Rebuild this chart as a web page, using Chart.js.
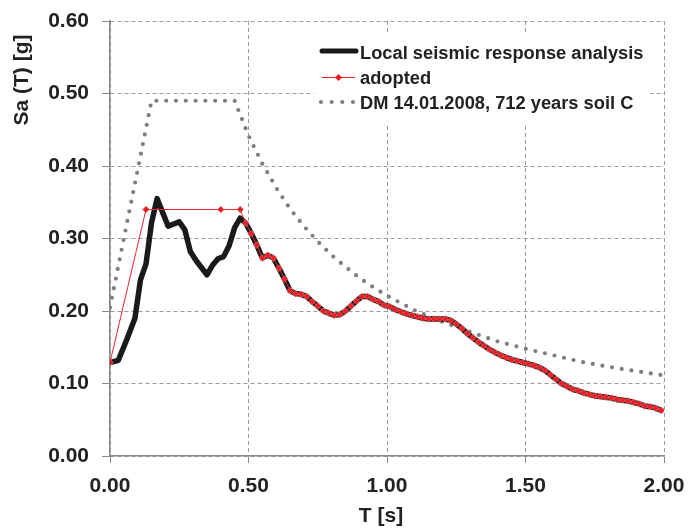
<!DOCTYPE html>
<html>
<head>
<meta charset="utf-8">
<script src="https://cdn.jsdelivr.net/npm/chart.js@4.4.1/dist/chart.umd.min.js"></script>
<style>
  html, body { margin: 0; padding: 0; background: #fff; }
  #wrap { width: 688px; height: 529px; }
</style>
</head>
<body>
<div id="wrap"><canvas id="myChart" width="688" height="529"></canvas></div>
<script>
// local seismic response, first part (before it joins the adopted curve)
const localT = [0, 0.03, 0.06, 0.09, 0.11, 0.13, 0.15, 0.17, 0.21, 0.23, 0.25, 0.27, 0.29, 0.31, 0.33, 0.35, 0.37, 0.39, 0.41, 0.43, 0.45, 0.47, 0.49];
const localSa = [0.129, 0.132, 0.160, 0.190, 0.243, 0.265, 0.322, 0.355, 0.317, 0.320, 0.323, 0.312, 0.282, 0.270, 0.260, 0.250, 0.263, 0.272, 0.275, 0.290, 0.315, 0.328, 0.321];

// adopted spectrum, plateau part
const adoptedT = [0, 0.13, 0.40, 0.47, 0.49];
const adoptedSa = [0.129, 0.340, 0.340, 0.340, 0.321];

// common tail (both curves coincide)
const tailT = [0.51, 0.53, 0.55, 0.57, 0.59, 0.61, 0.63, 0.65, 0.67, 0.69, 0.71, 0.73, 0.75, 0.77, 0.79,
  0.81, 0.83, 0.85, 0.87, 0.89, 0.91, 0.93, 0.95, 0.97, 0.99, 1.01, 1.03, 1.05, 1.07, 1.09,
  1.11, 1.13, 1.15, 1.17, 1.19, 1.21, 1.23, 1.25, 1.27, 1.29, 1.31, 1.33, 1.35, 1.37, 1.39,
  1.41, 1.43, 1.45, 1.47, 1.49, 1.51, 1.53, 1.55, 1.57, 1.59, 1.61, 1.63, 1.65, 1.67, 1.69,
  1.71, 1.73, 1.75, 1.77, 1.79, 1.81, 1.83, 1.85, 1.87, 1.89, 1.91, 1.93, 1.95, 1.97, 1.99];
const tailSa = [0.307, 0.291, 0.273, 0.277, 0.273, 0.259, 0.244, 0.228, 0.224, 0.223, 0.220, 0.213, 0.207, 0.200, 0.197,
  0.194, 0.195, 0.200, 0.207, 0.214, 0.220, 0.220, 0.216, 0.213, 0.208, 0.206, 0.202, 0.199, 0.196, 0.194,
  0.192, 0.190, 0.189, 0.189, 0.189, 0.189, 0.187, 0.182, 0.176, 0.169, 0.163, 0.157, 0.152, 0.147, 0.143,
  0.139, 0.136, 0.133, 0.131, 0.129, 0.127, 0.125, 0.122, 0.118, 0.112, 0.106, 0.100, 0.096, 0.092, 0.090,
  0.087, 0.085, 0.083, 0.082, 0.081, 0.080, 0.078, 0.077, 0.076, 0.074, 0.072, 0.069, 0.068, 0.066, 0.063];

// DM 14.01.2008 code spectrum
const dmT = [0, 0.15, 0.45, 0.50, 0.55, 0.60, 0.65, 0.70, 0.75, 0.80, 0.85, 0.90, 0.95, 1.00, 1.10, 1.20, 1.30, 1.40, 1.50, 1.60, 1.70, 1.80, 1.90, 2.00];
const dmSa = [0.205, 0.490, 0.490, 0.442, 0.403, 0.370, 0.341, 0.317, 0.296, 0.277, 0.261, 0.246, 0.233, 0.221, 0.201, 0.185, 0.171, 0.158, 0.148, 0.139, 0.130, 0.123, 0.117, 0.111];

const xTicks = [0, 0.5, 1.0, 1.5, 2.0];
const labels = ['Local seismic response analysis', 'adopted', 'DM 14.01.2008, 712 years soil C'];

function toPoints(ts, vs) {
    return ts.map((t, i) => ({ x: t, y: vs[i] }));
}

const FONT = '"Liberation Sans", Arial, Helvetica, sans-serif';
const TXT = '#222';

// legend box + axis titles drawn by hand
const decor = {
    id: 'decor',
    afterDraw(chart) {
        const ctx = chart.ctx;
        ctx.save();
        ctx.fillStyle = '#fff';
        ctx.fillRect(314, 33, 336, 92);

        ctx.font = 'bold 18.3px ' + FONT;
        ctx.fillStyle = TXT;
        ctx.textBaseline = 'alphabetic';
        ctx.textAlign = 'left';
        const rows = [59, 84, 109];
        rows.forEach((b, i) => ctx.fillText(labels[i], 360, b));

        // black sample
        ctx.strokeStyle = '#1a1a1a';
        ctx.lineWidth = 5;
        ctx.lineCap = 'round';
        ctx.beginPath();
        ctx.moveTo(322, 51); ctx.lineTo(356, 51);
        ctx.stroke();

        // red sample
        ctx.strokeStyle = '#e8262c';
        ctx.lineWidth = 1;
        ctx.lineCap = 'butt';
        ctx.beginPath();
        ctx.moveTo(322, 77.5); ctx.lineTo(355, 77.5);
        ctx.stroke();
        ctx.fillStyle = '#ee1c25';
        ctx.beginPath();
        ctx.moveTo(338.5, 74); ctx.lineTo(342, 77.5); ctx.lineTo(338.5, 81); ctx.lineTo(335, 77.5);
        ctx.closePath();
        ctx.fill();

        // grey dots sample
        ctx.fillStyle = '#7f7f7f';
        [321, 331.7, 342.3, 353].forEach(x => {
            ctx.beginPath();
            ctx.arc(x, 102, 2.1, 0, Math.PI * 2);
            ctx.fill();
        });

        // axis titles
        ctx.fillStyle = TXT;
        ctx.font = 'bold 21px ' + FONT;
        ctx.textAlign = 'center';
        ctx.textBaseline = 'middle';
        ctx.fillText('T [s]', 381, 516);
        ctx.translate(22, 80);
        ctx.rotate(-Math.PI / 2);
        ctx.fillText('Sa (T) [g]', 0, 0);
        ctx.restore();
    }
};

const ctx = document.getElementById('myChart').getContext('2d');
const myChart = new Chart(ctx, {
    type: 'line',
    data: {
        datasets: [{
            label: labels[1],
            data: toPoints(adoptedT.concat(tailT), adoptedSa.concat(tailSa)),
            borderColor: '#e8262c',
            borderWidth: 1,
            pointStyle: 'rectRot',
            pointRadius: 3.3,
            pointBackgroundColor: '#ee1c25',
            pointBorderColor: 'rgba(240,110,110,0.7)',
            pointBorderWidth: 1,
            order: 0
        }, {
            label: labels[0],
            data: toPoints(localT.concat(tailT), localSa.concat(tailSa)),
            borderColor: '#1a1a1a',
            borderWidth: 5.5,
            borderJoinStyle: 'round',
            borderCapStyle: 'round',
            pointRadius: 0,
            order: 1
        }, {
            label: labels[2],
            data: toPoints(dmT, dmSa),
            borderColor: '#7f7f7f',
            borderWidth: 4.2,
            borderDash: [0, 9.8],
            borderCapStyle: 'round',
            pointRadius: 0,
            order: 2
        }]
    },
    options: {
        responsive: false,
        animation: false,
        layout: { padding: { left: 0, top: 21, right: 24, bottom: 0 } },
        plugins: {
            legend: { display: false },
            tooltip: { enabled: false }
        },
        scales: {
            x: {
                type: 'linear',
                min: 0,
                max: 2,
                afterBuildTicks: (scale) => { scale.ticks = xTicks.map(v => ({ value: v })); },
                afterFit: (scale) => {
                    scale.height = 73;
                    scale.paddingLeft = 0;
                    scale.paddingRight = 0;
                },
                ticks: {
                    callback: (v) => Number(v).toFixed(2),
                    color: TXT,
                    font: { family: FONT, size: 21, weight: 'bold' },
                    padding: 11,
                    maxRotation: 0
                },
                grid: { color: '#9a9a9a', lineWidth: 1, tickLength: 7, tickColor: '#888' },
                border: { display: true, color: '#888', width: 1.5, dash: [4, 3] }
            },
            y: {
                min: 0,
                max: 0.6,
                ticks: {
                    stepSize: 0.1,
                    callback: (v) => Number(v).toFixed(2),
                    color: TXT,
                    font: { family: FONT, size: 21, weight: 'bold' },
                    padding: 13
                },
                afterFit: (scale) => {
                    scale.width = 110;
                    scale.paddingTop = 0;
                    scale.paddingBottom = 0;
                },
                grid: { color: '#9a9a9a', lineWidth: 1, tickLength: 8, tickColor: '#888' },
                border: { display: true, color: '#888', width: 1.5, dash: [4, 3] }
            }
        }
    },
    plugins: [decor]
});
</script>
</body>
</html>
